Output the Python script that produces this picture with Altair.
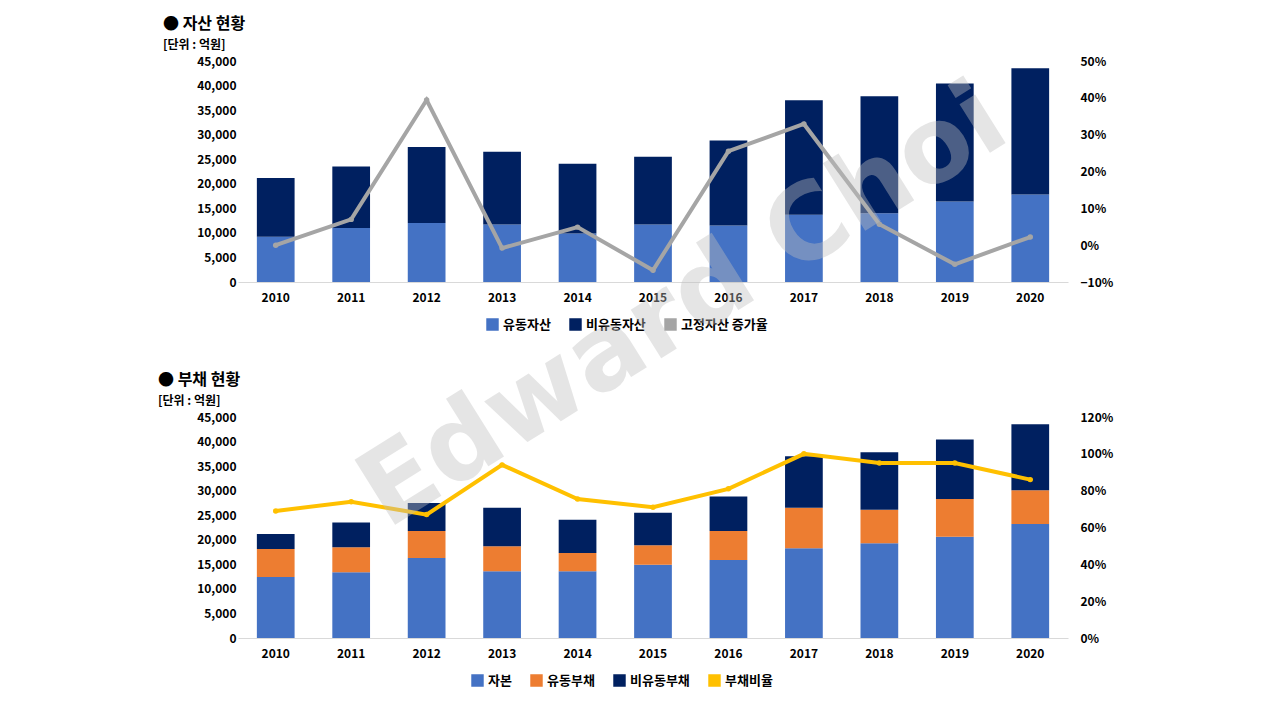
import altair as alt
import pandas as pd

years = [str(y) for y in range(2010, 2021)]
total = [21200, 23500, 27500, 26500, 24100, 25500, 28800, 37000, 37800, 40400, 43500]
current_assets = [9200, 11000, 12000, 11700, 9900, 11700, 11500, 13700, 14000, 16400, 17800]
fixed_growth = [0.0, 0.07, 0.394, -0.008, 0.049, -0.068, 0.255, 0.329, 0.057, -0.052, 0.022]
equity = [12400, 13400, 16300, 13600, 13600, 14900, 15900, 18300, 19300, 20600, 23200]
cur_liab_top = [18100, 18500, 21800, 18700, 17300, 18900, 21800, 26500, 26100, 28300, 30100]
debt_ratio = [0.69, 0.74, 0.67, 0.94, 0.755, 0.71, 0.81, 1.00, 0.95, 0.95, 0.86]

font = "Noto Sans CJK KR"
W, H = 830, 221

rows = []
for i, y in enumerate(years):
    rows.append({"year": y, "s": "유동자산", "v": current_assets[i], "o": 0})
    rows.append({"year": y, "s": "비유동자산", "v": total[i] - current_assets[i], "o": 1})
top_bars_df = pd.DataFrame(rows)
top_line_df = pd.DataFrame({"year": years, "s": "고정자산 증가율", "r": fixed_growth})

rows = []
for i, y in enumerate(years):
    rows.append({"year": y, "s": "자본", "v": equity[i], "o": 0})
    rows.append({"year": y, "s": "유동부채", "v": cur_liab_top[i] - equity[i], "o": 1})
    rows.append({"year": y, "s": "비유동부채", "v": total[i] - cur_liab_top[i], "o": 2})
bot_bars_df = pd.DataFrame(rows)
bot_line_df = pd.DataFrame({"year": years, "s": "부채비율", "r": debt_ratio})

xenc = alt.X("year:N", title=None, scale=alt.Scale(paddingInner=0.5, paddingOuter=0.25),
             axis=alt.Axis(labelAngle=0, labelFontWeight="bold", labelFontSize=12, ticks=False,
                           domainColor="#d9d9d9", labelPadding=10))


def panel(bars_df, line_df, names, colors, rticks, line_color, title, lx, tx):
    legend = alt.Legend(title=None, orient="none", legendX=lx, legendY=H + 36, direction="horizontal",
                        symbolType="square", labelFontSize=13, labelFontWeight="bold", symbolSize=120,
                        columnPadding=16)
    cscale = alt.Scale(domain=names, range=colors)
    bars = alt.Chart(bars_df).mark_bar().encode(
        x=xenc,
        y=alt.Y("v:Q", stack="zero", title=None, scale=alt.Scale(domain=[0, 45000]),
                axis=alt.Axis(values=list(range(0, 45001, 5000)), format=",.0f", grid=False, domain=False,
                              ticks=False, labelFontWeight="bold", labelFontSize=12)),
        color=alt.Color("s:N", scale=cscale, legend=legend),
        order=alt.Order("o:Q"),
    )
    line = alt.Chart(line_df).mark_line(strokeWidth=4, point=alt.OverlayMarkDef(size=30, filled=True, color=line_color)).encode(
        x=xenc,
        y=alt.Y("r:Q", title=None, scale=alt.Scale(domain=[rticks[0], rticks[-1]]),
                axis=alt.Axis(orient="right", format=".0%", grid=False, domain=False, ticks=False,
                              values=rticks, labelFontWeight="bold", labelFontSize=12, labelPadding=12)),
        color=alt.Color("s:N", scale=cscale, legend=legend),
    )
    head = alt.Chart(pd.DataFrame({"t": ["●  " + title]})).mark_text(
        align="left", baseline="middle", fontSize=16, fontWeight="bold", font=font).encode(
        text="t:N", x=alt.value(tx), y=alt.value(-37))
    unit = alt.Chart(pd.DataFrame({"t": ["[단위 : 억원]"]})).mark_text(
        align="left", baseline="middle", fontSize=12, fontWeight="bold", font=font).encode(
        text="t:N", x=alt.value(tx), y=alt.value(-16))
    return alt.layer(bars, line, head, unit).resolve_scale(y="independent").properties(width=W, height=H)


top = panel(top_bars_df, top_line_df, ["유동자산", "비유동자산", "고정자산 증가율"],
            ["#4472C4", "#002060", "#A5A5A5"], [-0.1, 0.0, 0.1, 0.2, 0.3, 0.4, 0.5], "#A5A5A5", "자산 현황", 248, -75)
bot = panel(bot_bars_df, bot_line_df, ["자본", "유동부채", "비유동부채", "부채비율"],
            ["#4472C4", "#ED7D31", "#002060", "#FFC000"], [0.0, 0.2, 0.4, 0.6, 0.8, 1.0, 1.2], "#FFC000", "부채 현황", 233, -80)

mark_df = pd.DataFrame({"t": ["Edward Choi"]})
wm = alt.Chart(mark_df).mark_text(angle=328, fontSize=105, fontWeight="bold", color="#bfbfbf",
                                   opacity=0.4, font="DejaVu Sans").encode(
    text="t:N", x=alt.value(445), y=alt.value(-110))
bot = alt.layer(bot, wm)

chart = alt.vconcat(top, bot, spacing=135, bounds="flush").resolve_scale(color="independent").properties(
    padding={"left": 150, "top": 8, "right": 10, "bottom": 5}
).configure(font=font).configure_view(stroke=None)

chart.save("out.html", embed_options={"renderer": "svg", "actions": False})
